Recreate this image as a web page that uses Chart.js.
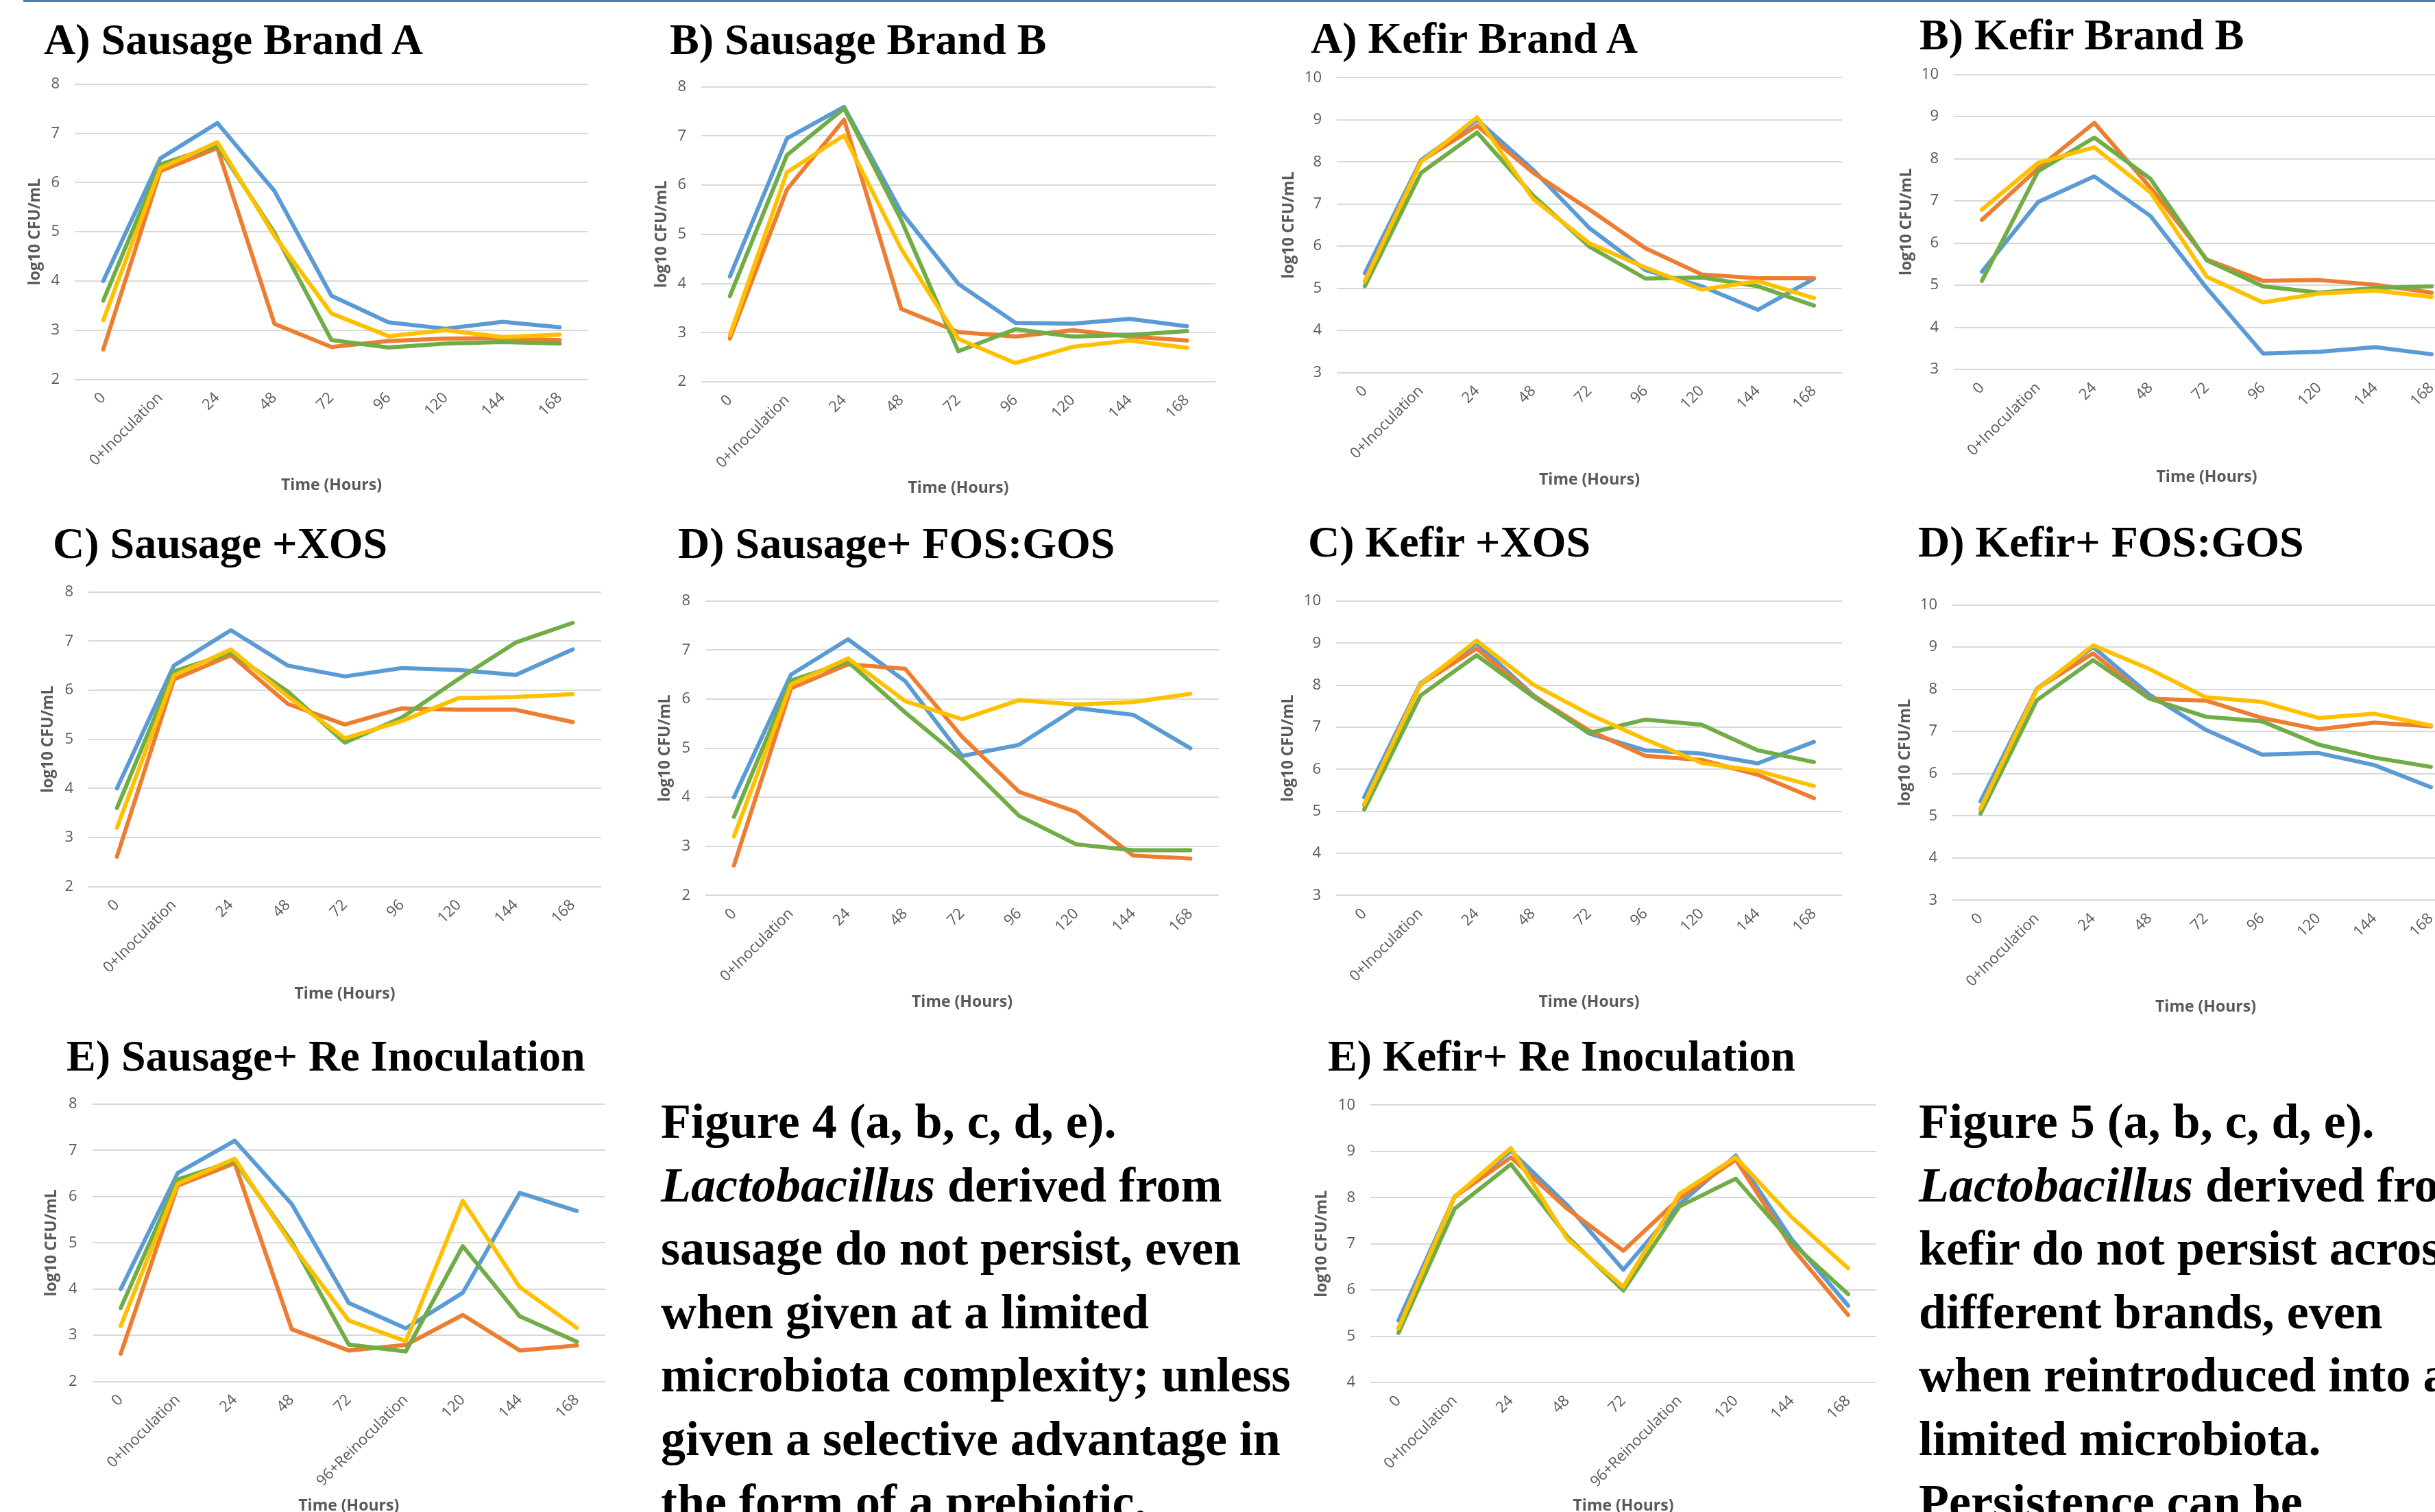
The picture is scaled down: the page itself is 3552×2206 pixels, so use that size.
<!DOCTYPE html>
<html>
<head>
<meta charset="utf-8">
<title>Figure 4 and 5</title>
<script src="https://cdn.jsdelivr.net/npm/chart.js@4.4.1/dist/chart.umd.min.js"></script>
<style>
    html, body { margin: 0; padding: 0; width: 3552px; height: 2206px; overflow: hidden; background: #fff; }
    canvas { position: absolute; }
    .ttl { position: absolute; font-family: 'Liberation Serif', 'Times New Roman', serif; font-weight: bold; font-size: 64px; line-height: 64px; white-space: nowrap; color: #000; }
    .caption { position: absolute; font-family: 'Liberation Serif', 'Times New Roman', serif; font-weight: bold; font-size: 72px; line-height: 92.5px; white-space: nowrap; color: #000; }
    #topline { position: absolute; left: 34px; top: 0; width: 3518px; height: 3px; background: #4a7ebb; }
</style>
</head>
<body>
<div id="topline"></div>

<div class="ttl" style="left:64px; top:26px">A) Sausage Brand A</div>
<div class="ttl" style="left:977px; top:26px">B) Sausage Brand B</div>
<div class="ttl" style="left:1912px; top:24px">A) Kefir Brand A</div>
<div class="ttl" style="left:2800px; top:19px">B) Kefir Brand B</div>
<div class="ttl" style="left:77px; top:761px">C) Sausage +XOS</div>
<div class="ttl" style="left:989px; top:761px">D) Sausage+ FOS:GOS</div>
<div class="ttl" style="left:1908px; top:759px">C) Kefir +XOS</div>
<div class="ttl" style="left:2798px; top:759px">D) Kefir+ FOS:GOS</div>
<div class="ttl" style="left:97px; top:1509px">E) Sausage+ Re Inoculation</div>
<div class="ttl" style="left:1937px; top:1509px">E) Kefir+ Re Inoculation</div>

<div class="caption" style="left:964px; top:1590px">Figure 4 (a, b, c, d, e).<br><i>Lactobacillus</i> derived from<br>sausage do not persist, even<br>when given at a limited<br>microbiota complexity; unless<br>given a selective advantage in<br>the form of a prebiotic.</div>
<div class="caption" style="left:2799px; top:1590px">Figure 5 (a, b, c, d, e).<br><i>Lactobacillus</i> derived from<br>kefir do not persist across<br>different brands, even<br>when reintroduced into a<br>limited microbiota.<br>Persistence can be</div>

<canvas id="sausageA"></canvas>
<canvas id="sausageB"></canvas>
<canvas id="kefirA"></canvas>
<canvas id="kefirB"></canvas>
<canvas id="sausageC"></canvas>
<canvas id="sausageD"></canvas>
<canvas id="kefirC"></canvas>
<canvas id="kefirD"></canvas>
<canvas id="sausageE"></canvas>
<canvas id="kefirE"></canvas>

<script>
const timeLabels = ['0', '0+Inoculation', '24', '48', '72', '96', '120', '144', '168'];
const reinocLabels = ['0', '0+Inoculation', '24', '48', '72', '96+Reinoculation', '120', '144', '168'];
const sausageRange = [2, 8];
const kefirRange = [3, 10];
const kefirReRange = [4, 10];

// A) Sausage Brand A
const sausA_blue = [4.00, 6.49, 7.21, 5.83, 3.70, 3.16, 3.03, 3.17, 3.06];
const sausA_orange = [2.61, 6.23, 6.70, 3.13, 2.66, 2.78, 2.83, 2.84, 2.80];
const sausA_green = [3.60, 6.37, 6.75, 4.98, 2.80, 2.65, 2.73, 2.76, 2.73];
const sausA_yellow = [3.20, 6.29, 6.82, 4.92, 3.34, 2.88, 3.00, 2.86, 2.91];

// B) Sausage Brand B
const sausB_blue = [4.14, 6.95, 7.59, 5.45, 3.99, 3.20, 3.18, 3.28, 3.13];
const sausB_orange = [2.88, 5.91, 7.33, 3.48, 3.01, 2.92, 3.05, 2.92, 2.84];
const sausB_green = [3.74, 6.61, 7.56, 5.29, 2.62, 3.07, 2.92, 2.95, 3.03];
const sausB_yellow = [2.95, 6.26, 7.01, 4.70, 2.87, 2.38, 2.71, 2.84, 2.69];

// A) Kefir Brand A
const kefA_blue = [5.36, 8.04, 9.00, 7.81, 6.43, 5.43, 5.05, 4.49, 5.23];
const kefA_orange = [5.17, 8.02, 8.86, 7.74, 6.87, 5.95, 5.33, 5.24, 5.24];
const kefA_green = [5.05, 7.74, 8.70, 7.20, 5.99, 5.23, 5.26, 5.05, 4.59];
const kefA_yellow = [5.17, 8.00, 9.06, 7.12, 6.07, 5.49, 4.97, 5.17, 4.77];

// B) Kefir Brand B
const kefB_blue = [5.32, 6.97, 7.58, 6.64, 4.93, 3.38, 3.42, 3.53, 3.36];
const kefB_orange = [6.55, 7.77, 8.85, 7.31, 5.61, 5.10, 5.12, 5.01, 4.82];
const kefB_green = [5.10, 7.70, 8.50, 7.52, 5.59, 4.97, 4.82, 4.93, 4.97];
const kefB_yellow = [6.79, 7.90, 8.27, 7.20, 5.20, 4.59, 4.80, 4.87, 4.72];

// C) Sausage +XOS
const sausC_blue = [4.00, 6.50, 7.22, 6.50, 6.28, 6.45, 6.41, 6.31, 6.83];
const sausC_orange = [2.61, 6.22, 6.71, 5.72, 5.30, 5.63, 5.60, 5.60, 5.35];
const sausC_green = [3.60, 6.38, 6.76, 5.97, 4.93, 5.44, 6.23, 6.97, 7.37];
const sausC_yellow = [3.20, 6.30, 6.83, 5.87, 5.02, 5.37, 5.84, 5.86, 5.92];

// D) Sausage+ FOS:GOS
const sausD_blue = [4.00, 6.50, 7.22, 6.37, 4.84, 5.07, 5.82, 5.68, 5.00];
const sausD_orange = [2.61, 6.22, 6.71, 6.62, 5.23, 4.11, 3.70, 2.81, 2.75];
const sausD_green = [3.60, 6.38, 6.76, 5.73, 4.77, 3.62, 3.04, 2.92, 2.92];
const sausD_yellow = [3.20, 6.30, 6.83, 5.96, 5.59, 5.98, 5.89, 5.94, 6.11];

// C) Kefir +XOS
const kefC_blue = [5.33, 8.04, 9.00, 7.77, 6.85, 6.45, 6.37, 6.14, 6.65];
const kefC_orange = [5.15, 8.02, 8.87, 7.75, 6.92, 6.32, 6.22, 5.87, 5.31];
const kefC_green = [5.04, 7.75, 8.71, 7.73, 6.86, 7.18, 7.06, 6.45, 6.17];
const kefC_yellow = [5.17, 8.02, 9.06, 8.02, 7.31, 6.71, 6.15, 5.96, 5.60];

// D) Kefir+ FOS:GOS
const kefD_blue = [5.34, 8.01, 9.00, 7.87, 7.04, 6.45, 6.49, 6.20, 5.68];
const kefD_orange = [5.15, 8.01, 8.85, 7.78, 7.73, 7.32, 7.05, 7.21, 7.12];
const kefD_green = [5.05, 7.74, 8.69, 7.78, 7.35, 7.24, 6.69, 6.38, 6.16];
const kefD_yellow = [5.17, 7.99, 9.04, 8.48, 7.81, 7.70, 7.32, 7.42, 7.14];

// E) Sausage+ Re Inoculation
const sausE_blue = [4.00, 6.51, 7.21, 5.84, 3.70, 3.15, 3.92, 6.08, 5.69];
const sausE_orange = [2.60, 6.24, 6.72, 3.13, 2.67, 2.79, 3.44, 2.67, 2.78];
const sausE_green = [3.59, 6.37, 6.77, 5.02, 2.80, 2.65, 4.93, 3.41, 2.86];
const sausE_yellow = [3.20, 6.28, 6.82, 4.96, 3.32, 2.87, 5.91, 4.04, 3.16];

// E) Kefir+ Re Inoculation
const kefE_blue = [5.34, 8.02, 9.01, 7.84, 6.44, 7.86, 8.91, 7.09, 5.66];
const kefE_orange = [5.17, 8.02, 8.87, 7.76, 6.85, 7.99, 8.82, 6.92, 5.46];
const kefE_green = [5.07, 7.76, 8.72, 7.16, 5.99, 7.81, 8.41, 7.02, 5.91];
const kefE_yellow = [5.17, 8.02, 9.07, 7.11, 6.07, 8.08, 8.87, 7.57, 6.47];

const colors = ['#5B9BD5', '#ED7D31', '#70AD47', '#FFC000'];

Chart.defaults.font.family = "'Open Sans', sans-serif";

window.onload = function () {
    // plot area edges and axis title centres, page pixels
    drawPanel('sausageA', { l: 109, r: 858, t: 122.7, b: 553.6, yTitle: 52, xTitle: 708 }, timeLabels, sausageRange,
        [sausA_blue, sausA_orange, sausA_green, sausA_yellow])
    drawPanel('sausageB', { l: 1023, r: 1773, t: 126.5, b: 557, yTitle: 966, xTitle: 712.6 }, timeLabels, sausageRange,
        [sausB_blue, sausB_orange, sausB_green, sausB_yellow])
    drawPanel('kefirA', { l: 1950, r: 2687, t: 113.3, b: 543.6, yTitle: 1881, xTitle: 700 }, timeLabels, kefirRange,
        [kefA_blue, kefA_orange, kefA_green, kefA_yellow])
    drawPanel('kefirB', { l: 2850, r: 3588, t: 108.5, b: 539, yTitle: 2781.5, xTitle: 696 }, timeLabels, kefirRange,
        [kefB_blue, kefB_orange, kefB_green, kefB_yellow])
    drawPanel('sausageC', { l: 129, r: 877, t: 863.6, b: 1293.6, yTitle: 71, xTitle: 1450 }, timeLabels, sausageRange,
        [sausC_blue, sausC_orange, sausC_green, sausC_yellow])
    drawPanel('sausageD', { l: 1029, r: 1778, t: 876.9, b: 1306.3, yTitle: 971, xTitle: 1462 }, timeLabels, sausageRange,
        [sausD_blue, sausD_orange, sausD_green, sausD_yellow])
    drawPanel('kefirC', { l: 1949, r: 2687, t: 876.9, b: 1306.3, yTitle: 1880, xTitle: 1462 }, timeLabels, kefirRange,
        [kefC_blue, kefC_orange, kefC_green, kefC_yellow])
    drawPanel('kefirD', { l: 2848, r: 3587, t: 882.5, b: 1313.4, yTitle: 2780, xTitle: 1469 }, timeLabels, kefirRange,
        [kefD_blue, kefD_orange, kefD_green, kefD_yellow])
    drawPanel('sausageE', { l: 134.5, r: 883, t: 1611, b: 2015.6, yTitle: 76, xTitle: 2197 }, reinocLabels, sausageRange,
        [sausE_blue, sausE_orange, sausE_green, sausE_yellow])
    drawPanel('kefirE', { l: 1999, r: 2737, t: 1612.4, b: 2017, yTitle: 1929, xTitle: 2197 }, reinocLabels, kefirReRange,
        [kefE_blue, kefE_orange, kefE_green, kefE_yellow])
}

function drawPanel(id, box, labels, range, series) {
    let canvas = document.getElementById(id);
    let titleHalf = 23 * 1.2 / 2;
    // room above the plot must exceed half a tick label plus tick padding, or Chart.js pushes the plot down
    let left = Math.round(box.yTitle - titleHalf);
    let top = Math.round(box.t - 44);
    let padTop = box.t - top;
    let padRight = 40;
    let yAxisW = box.l - left;
    let xAxisH = box.xTitle - box.b + titleHalf;
    let w = Math.round(yAxisW + (box.r - box.l) + padRight);
    let h = Math.round(padTop + (box.b - box.t) + xAxisH);
    xAxisH = h - padTop - (box.b - box.t);

    canvas.width = w;
    canvas.height = h;
    canvas.style.left = left + 'px';
    canvas.style.top = top + 'px';
    canvas.style.width = w + 'px';
    canvas.style.height = h + 'px';

    // yellow on top, blue at the bottom
    let datasets = series.map((values, idx) => ({
        label: 'Series ' + (idx + 1),
        data: values,
        borderColor: colors[idx],
        backgroundColor: colors[idx],
        order: series.length - idx
    }));

    new Chart(canvas.getContext('2d'), {
        type: 'line',
        data: { labels: labels, datasets: datasets },
        options: {
            responsive: false,
            animation: false,
            events: [],
            layout: { padding: { top: padTop, right: padRight, left: 0, bottom: 0 } },
            plugins: { legend: { display: false }, tooltip: { enabled: false } },
            elements: {
                point: { radius: 0 },
                line: { borderWidth: 6, tension: 0, borderCapStyle: 'round', borderJoinStyle: 'round' }
            },
            scales: {
                x: {
                    offset: true,
                    grid: { display: false, drawTicks: false },
                    border: { display: false },
                    ticks: { autoSkip: false, minRotation: 45, maxRotation: 45, color: '#595959', font: { size: 22 }, padding: 14 },
                    title: { display: true, text: 'Time (Hours)', color: '#595959', font: { size: 23, weight: 'bold' }, padding: 0 },
                    afterFit: (scale) => { scale.height = xAxisH; }
                },
                y: {
                    min: range[0],
                    max: range[1],
                    grid: { color: '#d9d9d9', lineWidth: 2, drawTicks: false },
                    border: { display: false },
                    ticks: { stepSize: 1, color: '#595959', font: { size: 22 }, padding: 22 },
                    title: { display: true, text: 'log10 CFU/mL', color: '#595959', font: { size: 23, weight: 'bold' }, padding: 0 },
                    afterFit: (scale) => { scale.width = yAxisW; }
                }
            }
        }
    });
}
</script>
</body>
</html>
